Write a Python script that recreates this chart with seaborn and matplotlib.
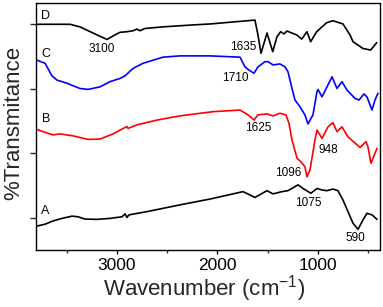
import matplotlib
matplotlib.use("Agg")
import matplotlib.pyplot as plt
import seaborn as sns
import pandas as pd

# ---- data ----
wn_D = [3800, 3468, 3369, 3199, 3100, 3020, 2970, 2900, 2841, 2801, 2771, 2721, 2542, 2243, 2073,
        1774, 1625, 1595, 1565, 1505, 1448, 1406, 1369, 1336, 1306, 1209, 1159, 1107, 1070, 1010,
        910, 848, 748, 678, 648, 549, 472, 412]
T_D = [70.0, 70.0, 69.2, 66.7, 65.3, 66.7, 67.5, 67.7, 68.0, 68.5, 68.0, 68.7, 69.2, 69.8, 70.1,
       70.9, 71.3, 66.7, 61.0, 67.3, 61.5, 66.1, 67.7, 67.0, 67.9, 66.7, 65.4, 67.7, 64.6, 67.7,
       70.5, 71.1, 70.1, 66.7, 64.6, 62.5, 62.0, 64.3]

wn_C = [3800, 3717, 3688, 3648, 3598, 3498, 3369, 3289, 3169, 3070, 2970, 2920, 2841, 2741, 2542,
        2372, 2073, 1774, 1724, 1694, 1635, 1595, 1525, 1495, 1445, 1376, 1326, 1296, 1256, 1226,
        1176, 1127, 1097, 1047, 1007, 997, 957, 907, 857, 808, 758, 708, 628, 588, 539, 509, 459,
        429, 399]
T_C = [58.9, 57.9, 56.3, 54.0, 52.7, 51.7, 50.1, 49.8, 50.6, 52.2, 53.2, 54.0, 56.3, 57.9, 59.8,
       60.2, 60.2, 59.8, 56.8, 56.0, 54.8, 56.8, 58.4, 58.4, 57.4, 57.7, 56.8, 55.3, 50.1, 46.5,
       44.4, 41.9, 39.1, 41.9, 49.1, 49.8, 47.5, 50.6, 53.7, 50.1, 52.2, 49.6, 47.0, 46.5, 48.4,
       47.5, 43.4, 46.5, 48.6]

wn_B = [3800, 3737, 3638, 3568, 3438, 3289, 3169, 3040, 2920, 2900, 2890, 2801, 2601, 2372, 2043,
        1774, 1694, 1635, 1595, 1505, 1445, 1376, 1316, 1286, 1256, 1206, 1157, 1127, 1107, 1077,
        1027, 1007, 957, 897, 848, 808, 758, 698, 578, 519, 499, 469, 409]
T_B = [37.4, 36.7, 35.7, 36.0, 35.4, 34.3, 34.4, 36.0, 38.0, 38.3, 37.7, 38.8, 40.3, 41.6, 42.9,
       43.4, 41.9, 40.3, 41.9, 42.2, 41.6, 42.4, 41.9, 39.3, 34.1, 28.5, 27.0, 25.8, 22.7, 24.8,
       34.1, 37.2, 34.6, 38.2, 39.5, 36.7, 38.2, 35.1, 31.8, 33.6, 32.0, 26.9, 31.5]

wn_A = [3800, 3717, 3638, 3548, 3448, 3389, 3319, 3199, 3070, 2950, 2920, 2900, 2880, 2701, 2372,
        2073, 1744, 1625, 1505, 1445, 1356, 1296, 1196, 1147, 1067, 1007, 957, 907, 848, 798,
        748, 698, 648, 598, 549, 509, 459, 409]
T_A = [7.4, 8.0, 9.0, 9.8, 10.5, 10.3, 9.6, 9.5, 9.8, 10.3, 11.2, 10.1, 10.9, 11.9, 14.0,
       15.8, 18.1, 16.3, 18.4, 17.4, 18.1, 18.4, 20.2, 19.1, 17.6, 19.1, 18.6, 18.4, 18.9, 18.4,
       15.5, 11.9, 8.3, 6.4, 9.3, 11.4, 10.9, 9.5]

curve_names = ["D", "C", "B", "A"]
curve_colors = ["#000000", "#0000ff", "#ff0000", "#000000"]
curve_label_pos = [(3717, 72.6), (3707, 60.8), (3707, 40.6), (3717, 12.1)]

peak_labels = ["3100", "1635", "1710", "1625", "1096", "948", "1075", "590"]
peak_label_pos = [(3149, 62.3), (1744, 62.9), (1824, 53.3), (1595, 37.8),
                  (1296, 23.9), (897, 31.0), (1097, 14.6), (628, 3.7)]

x_major = [3000, 2000, 1000]
x_minor = [3500, 2500, 1500, 500]
y_ticks = [10, 30, 50, 70]

# ---- plotting ----
sns.set_theme(style="ticks")
plt.rcParams["font.family"] = ["Liberation Sans", "DejaVu Sans"]
plt.rcParams["mathtext.fontset"] = "custom"
plt.rcParams["mathtext.rm"] = "Liberation Sans"
plt.rcParams["mathtext.it"] = "Liberation Sans"

fig = plt.figure(figsize=(3.83, 3.07), dpi=100)
ax = fig.add_axes([36 / 383, 57 / 307, 343.5 / 383, 247 / 307])

series = [(wn_D, T_D), (wn_C, T_C), (wn_B, T_B), (wn_A, T_A)]
for (wn, t), name, col in zip(series, curve_names, curve_colors):
    df = pd.DataFrame({"wn": wn, "T": t})
    sns.lineplot(data=df, x="wn", y="T", ax=ax, color=col, linewidth=1.2,
                 estimator=None, sort=True)

for name, (x, y) in zip(curve_names, curve_label_pos):
    ax.text(x, y, name, fontsize=9, ha="center", va="center", color="black")
for lab, (x, y) in zip(peak_labels, peak_label_pos):
    ax.text(x, y, lab, fontsize=8.5, ha="center", va="center", color="black")

ax.set_xlim(3807, 384)
ax.set_ylim(0, 76.6)
ax.set_xticks(x_major)
ax.set_xticks(x_minor, minor=True)
ax.set_yticks(y_ticks)
ax.set_yticklabels([])
ax.tick_params(axis="x", which="major", direction="out", length=3, width=1, labelsize=12.5, pad=3, colors="black")
ax.tick_params(axis="x", which="minor", direction="out", length=2, width=1)
ax.tick_params(axis="y", which="major", direction="out", length=4, width=1)
for s in ax.spines.values():
    s.set_visible(True)
    s.set_linewidth(1.0)
    s.set_color("black")

ax.set_xlabel("Wavenumber (cm$^{-1}$)", fontsize=16, labelpad=1)
ax.xaxis.set_label_coords(0.49, -0.093)
ax.xaxis.label.set_verticalalignment("top")
ax.set_ylabel("%Transmitance", fontsize=16)
ax.yaxis.set_label_coords(-0.035, 0.516)

fig.savefig("out.png", dpi=100)
